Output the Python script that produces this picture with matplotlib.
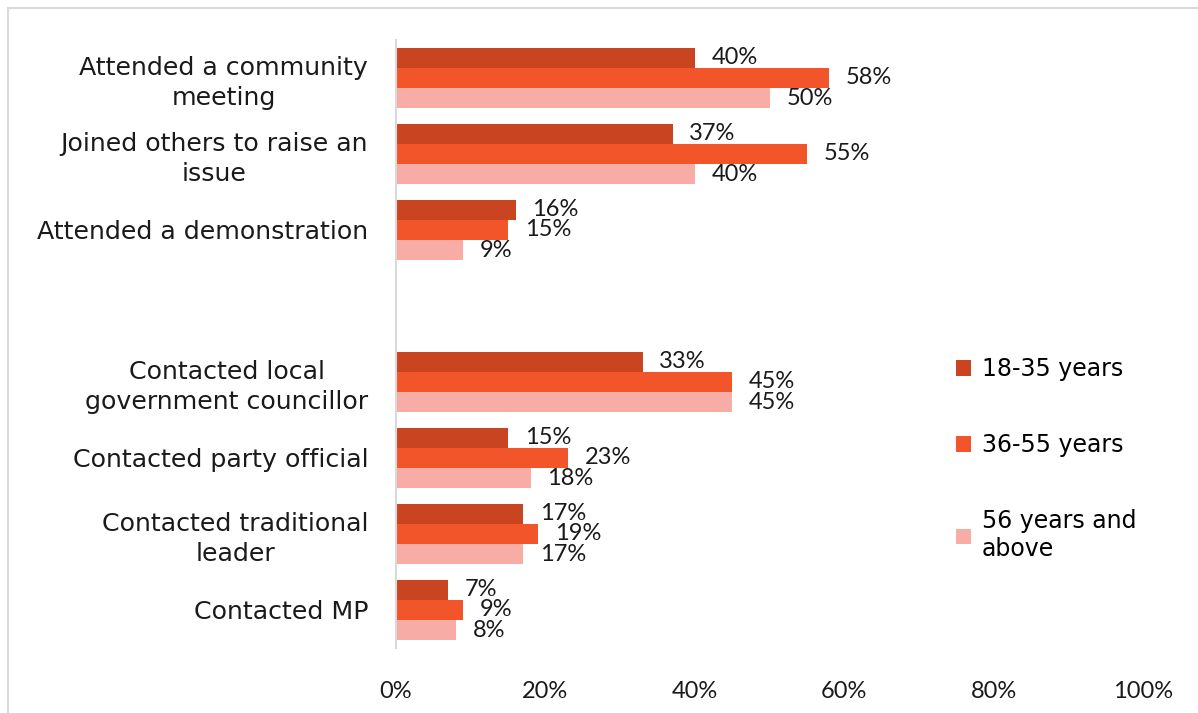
import matplotlib
matplotlib.use("Agg")
import matplotlib.pyplot as plt
from matplotlib.patches import Rectangle, Patch
import numpy as np

plt.rcParams['font.family'] = ['Lato', 'DejaVu Sans']
WIDE = ['DejaVu Sans']

categories = [
    "Attended a community\nmeeting",
    "Joined others to raise an\nissue",
    "Attended a demonstration",
    "",
    "Contacted local\ngovernment councillor",
    "Contacted party official",
    "Contacted traditional\nleader",
    "Contacted MP",
]
series_names = ["18-35 years", "36-55 years", "56 years and\nabove"]
age_18_35 = [40, 37, 16, None, 33, 15, 17, 7]
age_36_55 = [58, 55, 15, None, 45, 23, 19, 9]
age_56_up = [50, 40, 9, None, 45, 18, 17, 8]
xticks = [0, 20, 40, 60, 80, 100]

colors = ["#C94421", "#F2552A", "#F7ACA5"]
series = [age_18_35, age_36_55, age_56_up]

fig = plt.figure(figsize=(11.98, 7.13), dpi=100)
ax = fig.add_axes([0.3306, 0.0912, 0.6237, 0.8527])

n = len(categories)
ypos = np.arange(n)
bh = 0.8 / 3
for i, (vals, col) in enumerate(zip(series, colors)):
    offs = (i - 1) * bh
    for y, v in zip(ypos, vals):
        if v is None:
            continue
        ax.barh(y + offs, v, height=bh, color=col, edgecolor='none')
        ax.annotate(f"{v}%", xy=(v, y + offs), xytext=(12, 0),
                    textcoords='offset points', va='center', ha='left',
                    fontsize=17, color='#1a1a1a')

ax.set_ylim(n - 0.5, -0.5)
ax.set_xlim(0, 100)
ax.set_yticks(ypos)
ax.set_yticklabels(categories, fontsize=18.2, color='#1a1a1a',
                   linespacing=1.3, family=WIDE, multialignment='center')
ax.set_xticks(xticks)
ax.set_xticklabels([f"{t}%" for t in xticks], fontsize=17, color='#1a1a1a')
ax.tick_params(axis='y', length=0, pad=20)
ax.tick_params(axis='x', length=0, pad=24)
for s in ['top', 'right', 'bottom']:
    ax.spines[s].set_visible(False)
ax.spines['left'].set_color('#D9D9D9')
ax.spines['left'].set_linewidth(1.5)

handles = [Patch(facecolor=c, edgecolor='none') for c in colors]
fig.legend(handles, series_names, loc='upper left',
           bbox_to_anchor=(0.79, 0.512), frameon=False,
           prop={'family': WIDE, 'size': 17},
           handlelength=0.65, handleheight=0.65, handletextpad=0.45,
           labelspacing=2.2, borderaxespad=0)

# outer chart frame
fig.patches.append(Rectangle((8 / 1198, -0.05), 1.1, 1 - 8 / 713 + 0.05,
                             transform=fig.transFigure, fill=False,
                             edgecolor='#D9D9D9', linewidth=1.5))

fig.savefig("out.png", dpi=100)
